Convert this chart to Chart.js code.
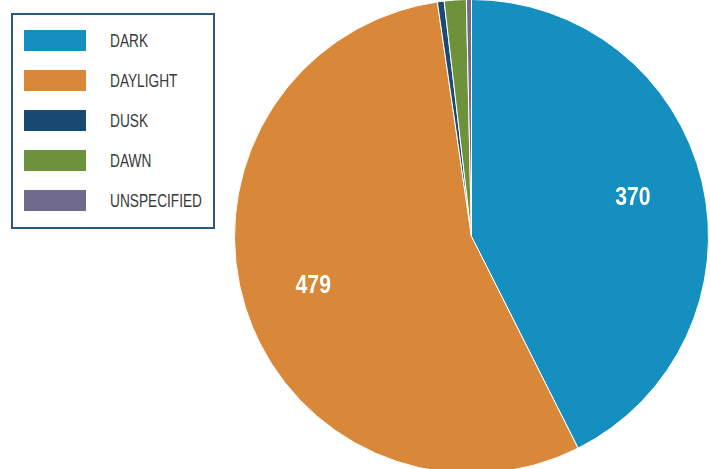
<!DOCTYPE html>
<html>
<head>
<meta charset="utf-8">
<script src="https://cdn.jsdelivr.net/npm/chart.js@4"></script>
<style>
  html, body { margin: 0; padding: 0; background: #fff; }
  #wrap { position: relative; width: 710px; height: 469px; }
  #lightChart { position: absolute; left: 0; top: 0; }
  #legend {
    position: absolute; left: 11px; top: 13px; width: 200px; height: 212px;
    border: 2px solid #2b5986; background: #fff;
    font-family: "Liberation Sans", Arial, sans-serif;
    font-size: 19px; color: #383838;
  }
  .item { position: absolute; left: 11px; height: 21px; }
  .swatch { position: absolute; left: 0; top: 0; width: 62px; height: 21px; }
  /* narrow lettering, squeezed sideways */
  .name {
    position: absolute; left: 86px; top: 0; line-height: 21px; white-space: nowrap;
    transform: scaleX(0.72); transform-origin: left center;
  }
</style>
</head>
<body>
<div id="wrap">
  <canvas id="lightChart" width="710" height="469"></canvas>
  <div id="legend"></div>
</div>
<script>
const categories = ['DARK', 'DAYLIGHT', 'DUSK', 'DAWN', 'UNSPECIFIED'];
const counts = [370, 479, 4, 13, 3];
const colors = ['#148fc0', '#d9883a', '#1a4a73', '#6e923c', '#706b8c'];

// legend box on the left
const legend = document.getElementById('legend');
categories.forEach((name, i) => {
    const item = document.createElement('div');
    item.className = 'item';
    item.style.top = (15 + i * 40) + 'px';
    item.innerHTML = '<div class="swatch" style="background:' + colors[i] + '"></div>' +
        '<div class="name">' + name + '</div>';
    legend.appendChild(item);
});

// writes the count of the two big slices inside them
const sliceValues = {
    id: 'sliceValues',
    afterDatasetsDraw(chart) {
        const ctx = chart.ctx;
        const meta = chart.getDatasetMeta(0);
        meta.data.forEach((arc, i) => {
            if (counts[i] < 100) return;
            const mid = (arc.startAngle + arc.endAngle) / 2;
            const r = arc.outerRadius * 0.7;
            ctx.save();
            ctx.translate(arc.x + Math.cos(mid) * r, arc.y + Math.sin(mid) * r);
            ctx.scale(0.85, 1);
            ctx.fillStyle = '#fff';
            ctx.font = 'bold 25px "Liberation Sans", Arial, sans-serif';
            ctx.textAlign = 'center';
            ctx.textBaseline = 'middle';
            ctx.fillText(String(counts[i]), 0, 0);
            ctx.restore();
        });
    }
};

const config = {
    type: 'pie',
    data: {
        labels: categories,
        datasets: [{
            data: counts,
            backgroundColor: colors,
            borderColor: '#fff',
            borderWidth: 1,
            radius: 237,
            clip: false
        }]
    },
    options: {
        responsive: false,
        animation: false,
        layout: {
            padding: { left: 233, top: 4, right: 0, bottom: 0 }
        },
        plugins: {
            legend: { display: false },
            tooltip: { enabled: false }
        }
    },
    plugins: [sliceValues]
};

var lightChart = new Chart(document.getElementById('lightChart'), config);
</script>
</body>
</html>
